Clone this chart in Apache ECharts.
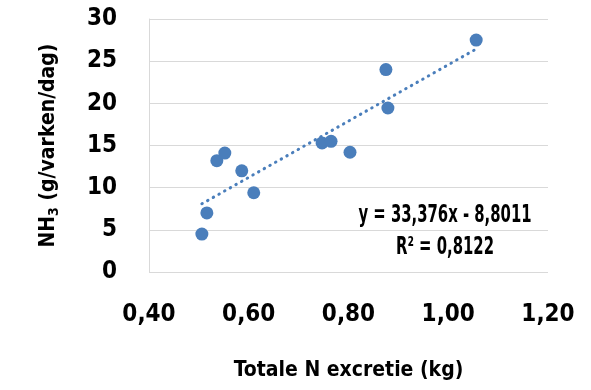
<!DOCTYPE html>
<html>
<head>
<meta charset="utf-8">
<script src="https://cdn.jsdelivr.net/npm/echarts@6/dist/echarts.min.js"></script>
<style>
html,body{margin:0;padding:0;background:#fff;}
#c{width:591px;height:390px;}
</style>
</head>
<body>
<div id="c"></div>
<script>
var xValues = [0.506, 0.516, 0.536, 0.552, 0.586, 0.610, 0.747, 0.765, 0.803, 0.875, 0.879, 1.056];
var yValues = [4.5, 7.0, 13.2, 14.1, 12.0, 9.4, 15.3, 15.5, 14.2, 24.0, 19.45, 27.5];
var trendSlope = 33.376;
var trendIntercept = -8.8011;
var equationText = 'y = 33,376x - 8,8011';
var r2Text = 'R² = 0,8122';
var xAxisTitle = 'Totale N excretie (kg)';
var yAxisTitleMain = 'NH';
var yAxisTitleSub = '3';
var yAxisTitleRest = ' (g/varken/dag)';

var FONT = '"DejaVu Sans Condensed", "Liberation Sans Narrow", sans-serif';
var BLUE = '#4A7EBB';

var points = xValues.map(function (x, i) { return [x, yValues[i]]; });
var xMin = Math.min.apply(null, xValues), xMax = Math.max.apply(null, xValues);
var trend = [[xMin, trendSlope * xMin + trendIntercept], [xMax, trendSlope * xMax + trendIntercept]];

var chart = echarts.init(document.getElementById('c'));
chart.setOption({
  animation: false,
  grid: { left: 149, right: 43, top: 19, bottom: 118 },
  xAxis: {
    type: 'value', min: 0.4, max: 1.2, interval: 0.2,
    axisLine: { show: false }, axisTick: { show: false },
    splitLine: { show: false },
    axisLabel: {
      margin: 31, fontFamily: FONT, fontWeight: 'bold', fontSize: 24, color: '#000',
      formatter: function (v) { return v.toFixed(2).replace('.', ','); }
    },
    name: xAxisTitle, nameLocation: 'middle', nameGap: 88,
    nameTextStyle: { fontFamily: FONT, fontWeight: 'bold', fontSize: 21, color: '#000' }
  },
  yAxis: {
    type: 'value', min: 0, max: 30, interval: 5,
    axisLine: { show: true, lineStyle: { color: '#d9d9d9', width: 1 } },
    axisTick: { show: false },
    splitLine: { show: true, lineStyle: { color: '#d9d9d9', width: 1 } },
    axisLabel: { margin: 32, fontFamily: FONT, fontWeight: 'bold', fontSize: 24, color: '#000' },
    name: '{a|' + yAxisTitleMain + '}{s|' + yAxisTitleSub + '}{a|' + yAxisTitleRest + '}',
    nameLocation: 'middle', nameGap: 88,
    nameTextStyle: {
      rich: {
        a: { fontFamily: FONT, fontWeight: 'bold', fontSize: 21, color: '#000' },
        s: { fontFamily: FONT, fontWeight: 'bold', fontSize: 14, color: '#000', verticalAlign: 'bottom', padding: [10, 0, 0, 0] }
      }
    }
  },
  series: [
    {
      type: 'line', data: trend, symbol: 'none', silent: true,
      lineStyle: { color: BLUE, width: 3, type: [0.5, 6], cap: 'round' }, z: 1
    },
    {
      type: 'scatter', data: points, symbolSize: 13,
      itemStyle: { color: BLUE, opacity: 1 }, z: 2
    }
  ],
  graphic: [
    { type: 'text', x: 445, y: 215, scaleX: 0.66,
      style: { text: equationText, font: 'bold 25px ' + FONT, fill: '#000', align: 'center', verticalAlign: 'middle' } },
    { type: 'text', x: 445, y: 247, scaleX: 0.66,
      style: { text: r2Text, font: 'bold 25px ' + FONT, fill: '#000', align: 'center', verticalAlign: 'middle' } }
  ]
});
</script>
</body>
</html>
